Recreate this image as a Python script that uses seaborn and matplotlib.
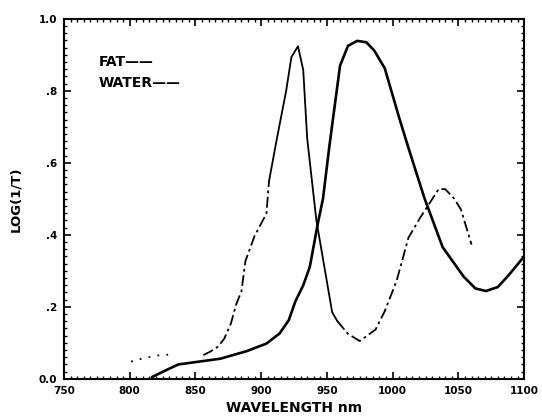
import matplotlib
matplotlib.use("Agg")
import matplotlib.pyplot as plt
import numpy as np
import pandas as pd
import seaborn as sns
from matplotlib.ticker import MultipleLocator

# ---- data ----
water_wavelength = [817, 830, 837, 849, 869, 889, 904, 914, 921, 926, 932, 937, 943, 947,
                    952, 956, 960, 966, 973, 980, 986, 994, 1005, 1012, 1024, 1038, 1054,
                    1063, 1071, 1080, 1088, 1100]
water_log = [0.005, 0.028, 0.040, 0.046, 0.056, 0.077, 0.098, 0.126, 0.163, 0.215, 0.260,
             0.311, 0.430, 0.500, 0.650, 0.760, 0.870, 0.925, 0.939, 0.935, 0.912, 0.863,
             0.725, 0.642, 0.504, 0.366, 0.284, 0.251, 0.244, 0.255, 0.287, 0.340]

fat_wavelength = [801, 810, 825, 834, 856, 861, 867, 872, 877, 881, 885, 888, 895, 904, 906,
                  912, 919, 923, 928, 932, 935, 942, 954, 958, 966, 975, 987, 994, 1003,
                  1012, 1021, 1035, 1040, 1047, 1052, 1060]
fat_log = [0.048, 0.057, 0.067, 0.067, 0.066, 0.075, 0.089, 0.112, 0.154, 0.207, 0.243,
           0.327, 0.397, 0.459, 0.550, 0.668, 0.800, 0.894, 0.924, 0.858, 0.668, 0.440,
           0.185, 0.160, 0.125, 0.105, 0.137, 0.188, 0.272, 0.392, 0.448, 0.527, 0.527,
           0.500, 0.470, 0.373]

x_ticks = [750, 800, 850, 900, 950, 1000, 1050, 1100]
x_tick_labels = ["750", "800", "850", "900", "950", "1000", "1050", "1100"]
y_ticks = [0.0, 0.2, 0.4, 0.6, 0.8, 1.0]
y_tick_labels = ["0.0", ".2", ".4", ".6", ".8", "1.0"]

# ---- style ----
sns.set_style("ticks")
plt.rcParams["font.family"] = ["DejaVu Sans"]
plt.rcParams["font.weight"] = "bold"
plt.rcParams["text.color"] = "black"
plt.rcParams["axes.labelcolor"] = "black"
plt.rcParams["xtick.color"] = "black"
plt.rcParams["ytick.color"] = "black"

fig = plt.figure(figsize=(5.42, 4.2), dpi=100)
ax = fig.add_axes([0.118, 0.098, 0.849, 0.857])

water = pd.DataFrame({"wavelength": water_wavelength, "log": water_log})
fat = pd.DataFrame({"wavelength": fat_wavelength, "log": fat_log})

sns.lineplot(data=water, x="wavelength", y="log", ax=ax, color="black",
             linewidth=1.9, estimator=None, sort=False)

# fat trace drawn in pieces to mimic the scanned line style
fat_pieces = [((800, 835), (0, (1, 4))),
              ((855, 906), (0, (6, 2, 1.5, 2))),
              ((906, 958), "-"),
              ((958, 1061), (0, (6, 2, 1.5, 2)))]
for (lo, hi), ls in fat_pieces:
    sub = fat[(fat["wavelength"] >= lo) & (fat["wavelength"] <= hi)]
    sns.lineplot(data=sub, x="wavelength", y="log", ax=ax, color="black",
                 linewidth=1.3, estimator=None, sort=False)
    ax.lines[-1].set_linestyle(ls)

ax.set_xlim(750, 1100)
ax.set_ylim(0, 1.0)
ax.set_xticks(x_ticks)
ax.set_xticklabels(x_tick_labels, fontsize=7.5, fontweight="bold", color="black")
ax.set_yticks(y_ticks)
ax.set_yticklabels(y_tick_labels, fontsize=7.5, fontweight="bold", color="black")
ax.xaxis.set_minor_locator(MultipleLocator(5))
ax.yaxis.set_minor_locator(MultipleLocator(0.02))
ax.tick_params(which="both", direction="in", top=True, right=True, color="black")
ax.tick_params(which="major", length=5, width=1.2, pad=5)
ax.tick_params(which="minor", length=2.5, width=1.0)
for s in ax.spines.values():
    s.set_linewidth(1.5)
    s.set_color("black")

ax.set_xlabel("WAVELENGTH nm", fontsize=10, fontweight="bold", labelpad=4, color="black")
ax.set_ylabel("LOG(1/T)", fontsize=9.5, fontweight="bold", labelpad=12, color="black")

# legend as in the reference (labels followed by a line)
ax.text(0.075, 0.88, "FAT\u2014\u2014", transform=ax.transAxes, fontsize=10,
        fontweight="bold", va="center", ha="left", color="black")
ax.text(0.075, 0.822, "WATER\u2014\u2014", transform=ax.transAxes, fontsize=10,
        fontweight="bold", va="center", ha="left", color="black")

fig.savefig("out.png", dpi=100)
